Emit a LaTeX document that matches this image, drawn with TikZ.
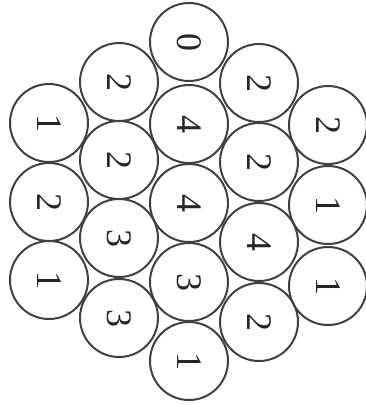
\documentclass[tikz,border=0pt]{standalone}
\usepackage{fontspec}
\setmainfont{Liberation Serif}
\begin{document}
\begin{tikzpicture}[x=1pt,y=-1pt,
  ball/.style={circle,draw=black!75,line width=2pt,minimum size=78pt,inner sep=0pt,
    font=\fontsize{36}{36}\selectfont,text=black!85,rotate=-90}]
\useasboundingbox (0,0) rectangle (366,405);
% column 1
\node[ball] (a1) at (49,123) {1};
\node[ball] (a2) at (49,202) {2};
\node[ball] (a3) at (49,280) {1};
% column 2
\node[ball] (b1) at (119,82) {2};
\node[ball] (b2) at (119,160) {2};
\node[ball] (b3) at (119,238) {3};
\node[ball] (b4) at (119,318) {3};
% column 3
\node[ball] (c1) at (189,42) {0};
\node[ball] (c2) at (189,124) {4};
\node[ball] (c3) at (189,203) {4};
\node[ball] (c4) at (189,282) {3};
\node[ball] (c5) at (189,361) {1};
% column 4
\node[ball] (d1) at (259,83) {2};
\node[ball] (d2) at (259,162) {2};
\node[ball] (d3) at (259,242) {4};
\node[ball] (d4) at (259,322) {2};
% column 5
\node[ball] (e1) at (328,125) {2};
\node[ball] (e2) at (328,205) {1};
\node[ball] (e3) at (328,286) {1};
\end{tikzpicture}
\end{document}
